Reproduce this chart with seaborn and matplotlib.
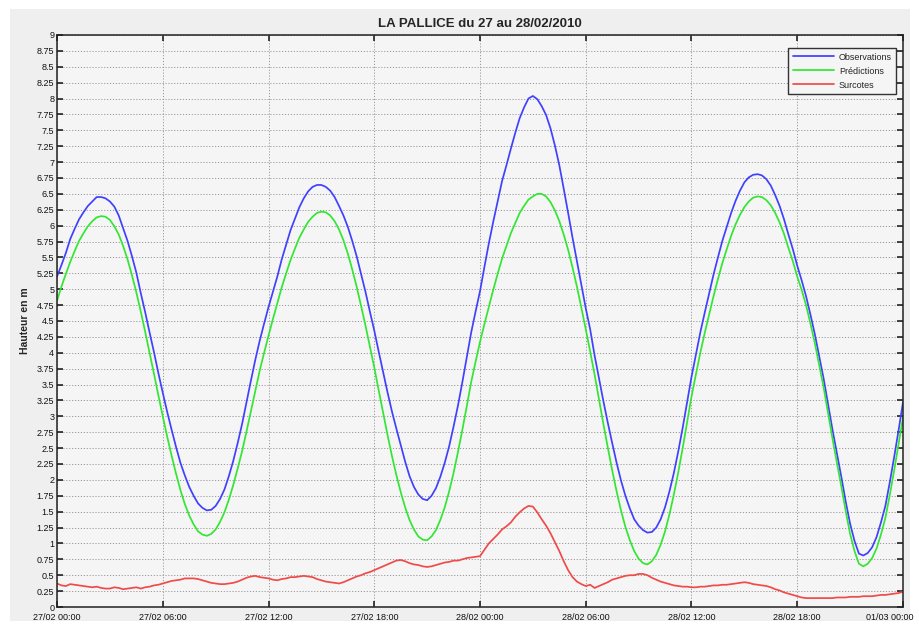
import matplotlib
matplotlib.use("Agg")
import matplotlib.pyplot as plt
import matplotlib.transforms as mtransforms
from matplotlib.patches import Rectangle
import numpy as np
import pandas as pd
import seaborn as sns

# Quarter-hourly sampling, hours since 27/02/2010 00:00 (one row = 2 hours)
hours = np.arange(0, 48.01, 0.25)

observations = [
    5.20, 5.38, 5.57, 5.79, 5.95, 6.10, 6.21, 6.31,
    6.38, 6.45, 6.45, 6.43, 6.38, 6.30, 6.16, 5.96,
    5.76, 5.52, 5.26, 4.94, 4.64, 4.32, 4.01, 3.68,
    3.37, 3.07, 2.79, 2.52, 2.27, 2.07, 1.89, 1.75,
    1.63, 1.56, 1.52, 1.53, 1.59, 1.70, 1.85, 2.06,
    2.30, 2.58, 2.88, 3.22, 3.56, 3.89, 4.19, 4.46,
    4.72, 4.96, 5.20, 5.47, 5.70, 5.93, 6.11, 6.29,
    6.43, 6.54, 6.61, 6.64, 6.64, 6.61, 6.55, 6.45,
    6.31, 6.16, 5.98, 5.76, 5.52, 5.24, 4.96, 4.65,
    4.35, 4.02, 3.70, 3.38, 3.08, 2.81, 2.55, 2.29,
    2.06, 1.89, 1.77, 1.70, 1.68, 1.75, 1.87, 2.05,
    2.27, 2.53, 2.84, 3.17, 3.54, 3.93, 4.32, 4.65,
    4.97, 5.35, 5.72, 6.06, 6.38, 6.70, 6.95, 7.21,
    7.46, 7.69, 7.86, 8.00, 8.04, 7.99, 7.88, 7.74,
    7.53, 7.26, 6.95, 6.58, 6.20, 5.81, 5.44, 5.07,
    4.70, 4.37, 3.96, 3.60, 3.24, 2.90, 2.58, 2.27,
    1.99, 1.75, 1.55, 1.38, 1.28, 1.21, 1.17, 1.18,
    1.25, 1.38, 1.57, 1.82, 2.11, 2.45, 2.82, 3.22,
    3.62, 3.97, 4.32, 4.63, 4.93, 5.23, 5.50, 5.76,
    5.98, 6.20, 6.39, 6.55, 6.68, 6.76, 6.80, 6.81,
    6.79, 6.73, 6.63, 6.48, 6.31, 6.10, 5.86, 5.63,
    5.37, 5.14, 4.89, 4.60, 4.29, 3.94, 3.59, 3.19,
    2.79, 2.42, 2.05, 1.66, 1.31, 1.04, 0.84, 0.81,
    0.85, 0.94, 1.10, 1.33, 1.59, 1.96, 2.36, 2.78,
    3.22,
]

predictions = [
    4.82, 5.04, 5.24, 5.43, 5.60, 5.76, 5.88, 5.99,
    6.07, 6.13, 6.15, 6.14, 6.09, 5.99, 5.86, 5.68,
    5.47, 5.22, 4.95, 4.65, 4.33, 4.00, 3.67, 3.33,
    3.00, 2.68, 2.38, 2.10, 1.84, 1.62, 1.44, 1.30,
    1.19, 1.14, 1.12, 1.15, 1.22, 1.34, 1.49, 1.69,
    1.92, 2.18, 2.45, 2.76, 3.08, 3.40, 3.72, 4.00,
    4.27, 4.53, 4.78, 5.03, 5.25, 5.46, 5.64, 5.81,
    5.94, 6.06, 6.14, 6.20, 6.22, 6.21, 6.16, 6.07,
    5.94, 5.77, 5.56, 5.31, 5.04, 4.74, 4.43, 4.10,
    3.77, 3.41, 3.06, 2.71, 2.38, 2.08, 1.81, 1.57,
    1.37, 1.22, 1.11, 1.06, 1.05, 1.11, 1.21, 1.37,
    1.57, 1.82, 2.11, 2.44, 2.79, 3.16, 3.54, 3.86,
    4.17, 4.45, 4.72, 4.99, 5.24, 5.48, 5.68, 5.88,
    6.04, 6.20, 6.31, 6.41, 6.46, 6.50, 6.50, 6.46,
    6.37, 6.24, 6.07, 5.86, 5.62, 5.34, 5.04, 4.71,
    4.37, 4.02, 3.66, 3.27, 2.88, 2.51, 2.15, 1.82,
    1.52, 1.26, 1.05, 0.88, 0.76, 0.69, 0.67, 0.72,
    0.82, 0.98, 1.19, 1.46, 1.77, 2.12, 2.50, 2.90,
    3.31, 3.66, 4.00, 4.31, 4.60, 4.89, 5.16, 5.41,
    5.63, 5.84, 6.02, 6.17, 6.29, 6.38, 6.44, 6.46,
    6.45, 6.40, 6.32, 6.20, 6.05, 5.87, 5.65, 5.44,
    5.20, 4.99, 4.75, 4.46, 4.15, 3.80, 3.45, 3.05,
    2.65, 2.27, 1.90, 1.51, 1.15, 0.88, 0.68, 0.64,
    0.68, 0.77, 0.92, 1.14, 1.40, 1.76, 2.15, 2.56,
    2.98,
]

surcotes = [
    0.37, 0.34, 0.33, 0.36, 0.35, 0.34, 0.33, 0.32,
    0.31, 0.32, 0.30, 0.29, 0.29, 0.31, 0.30, 0.28,
    0.29, 0.30, 0.31, 0.29, 0.31, 0.32, 0.34, 0.35,
    0.37, 0.39, 0.41, 0.42, 0.43, 0.45, 0.45, 0.45,
    0.44, 0.42, 0.40, 0.38, 0.37, 0.36, 0.36, 0.37,
    0.38, 0.40, 0.43, 0.46, 0.48, 0.49, 0.47, 0.46,
    0.45, 0.43, 0.42, 0.44, 0.45, 0.47, 0.47, 0.48,
    0.49, 0.48, 0.47, 0.44, 0.42, 0.40, 0.39, 0.38,
    0.37, 0.39, 0.42, 0.45, 0.48, 0.50, 0.53, 0.55,
    0.58, 0.61, 0.64, 0.67, 0.70, 0.73, 0.74, 0.72,
    0.69, 0.67, 0.66, 0.64, 0.63, 0.64, 0.66, 0.68,
    0.70, 0.71, 0.73, 0.73, 0.75, 0.77, 0.78, 0.79,
    0.80, 0.90, 1.00, 1.07, 1.14, 1.22, 1.27, 1.33,
    1.42, 1.49, 1.55, 1.59, 1.58, 1.49, 1.38, 1.28,
    1.16, 1.02, 0.88, 0.72, 0.58, 0.47, 0.40, 0.36,
    0.33, 0.35, 0.30, 0.33, 0.36, 0.39, 0.43, 0.45,
    0.47, 0.49, 0.50, 0.50, 0.52, 0.52, 0.50, 0.46,
    0.43, 0.40, 0.38, 0.36, 0.34, 0.33, 0.32, 0.32,
    0.31, 0.31, 0.32, 0.32, 0.33, 0.34, 0.34, 0.35,
    0.35, 0.36, 0.37, 0.38, 0.39, 0.38, 0.36, 0.35,
    0.34, 0.33, 0.31, 0.28, 0.26, 0.23, 0.21, 0.19,
    0.17, 0.15, 0.14, 0.14, 0.14, 0.14, 0.14, 0.14,
    0.14, 0.15, 0.15, 0.15, 0.16, 0.16, 0.16, 0.17,
    0.17, 0.17, 0.18, 0.19, 0.19, 0.20, 0.21, 0.22,
    0.24,
]

series_names = ["Observations", "Prédictions", "Surcotes"]
series_colors = ["#4040ff", "#33e633", "#f04a4a"]

x_tick_hours = [0, 6, 12, 18, 24, 30, 36, 42, 48]
x_tick_labels = [
    "27/02 00:00", "27/02 06:00", "27/02 12:00", "27/02 18:00",
    "28/02 00:00", "28/02 06:00", "28/02 12:00", "28/02 18:00",
    "01/03 00:00",
]
y_ticks = np.arange(0, 9.01, 0.25)

title = "LA PALLICE du 27 au 28/02/2010"
y_label = "Hauteur en m"

df = pd.DataFrame({
    "heure": np.concatenate([hours, hours, hours]),
    "hauteur": np.concatenate([observations, predictions, surcotes]),
    "serie": np.repeat(series_names, len(hours)),
})

sns.set_theme(style="ticks")
plt.rcParams["font.family"] = ["Liberation Sans", "DejaVu Sans"]

fig = plt.figure(figsize=(9.2, 6.3), dpi=100, facecolor="white")
fig.patches.append(Rectangle((0.011, 0.014), 0.978, 0.972, transform=fig.transFigure,
                             facecolor="#efefef", edgecolor="none", zorder=-10))
ax = fig.add_axes([0.062, 0.0365, 0.9195, 0.908])
ax.set_facecolor("#f5f5f5")

sns.lineplot(data=df, x="heure", y="hauteur", hue="serie", hue_order=series_names,
             palette=dict(zip(series_names, series_colors)), linewidth=1.25, ax=ax,
             estimator=None, sort=False)

ax.set_xlim(0, 48)
ax.set_ylim(0, 9)
ax.set_xticks(x_tick_hours)
ax.set_xticklabels(x_tick_labels)
ax.set_yticks(y_ticks)
ax.set_yticklabels([f"{v:g}" for v in y_ticks])
ax.grid(True, linestyle=(0, (1.2, 1.8)), color="#9a9a9a", linewidth=0.7)
ax.tick_params(direction="in", length=4, width=1.1, top=True, right=True,
               labelsize=6.5, colors="#111111", pad=2)
ax.tick_params(axis="x", pad=4)
for sp in ax.spines.values():
    sp.set_color("#222222")
    sp.set_linewidth(1.1)

# keep the last date label inside the figure edge
last = ax.get_xticklabels()[-1]
last.set_transform(last.get_transform() +
                   mtransforms.ScaledTranslation(-13 / 100, 0, fig.dpi_scale_trans))

ax.set_xlabel("")
ax.set_ylabel(y_label, fontsize=7.5, fontweight="bold", labelpad=5)
ax.set_title(title, fontsize=9.5, fontweight="bold", pad=6)

leg = ax.legend(loc="upper right", fontsize=6.5, frameon=True, fancybox=False,
                handlelength=4.6, handletextpad=0.5, borderpad=0.5, labelspacing=0.55,
                bbox_to_anchor=(0.9975, 0.985))
leg.get_frame().set_edgecolor("#333333")
leg.get_frame().set_facecolor("#f5f5f5")
leg.get_frame().set_linewidth(1.0)
leg.get_frame().set_alpha(1)
leg.set_title(None)

fig.savefig("out.png", dpi=100, facecolor=fig.get_facecolor())
